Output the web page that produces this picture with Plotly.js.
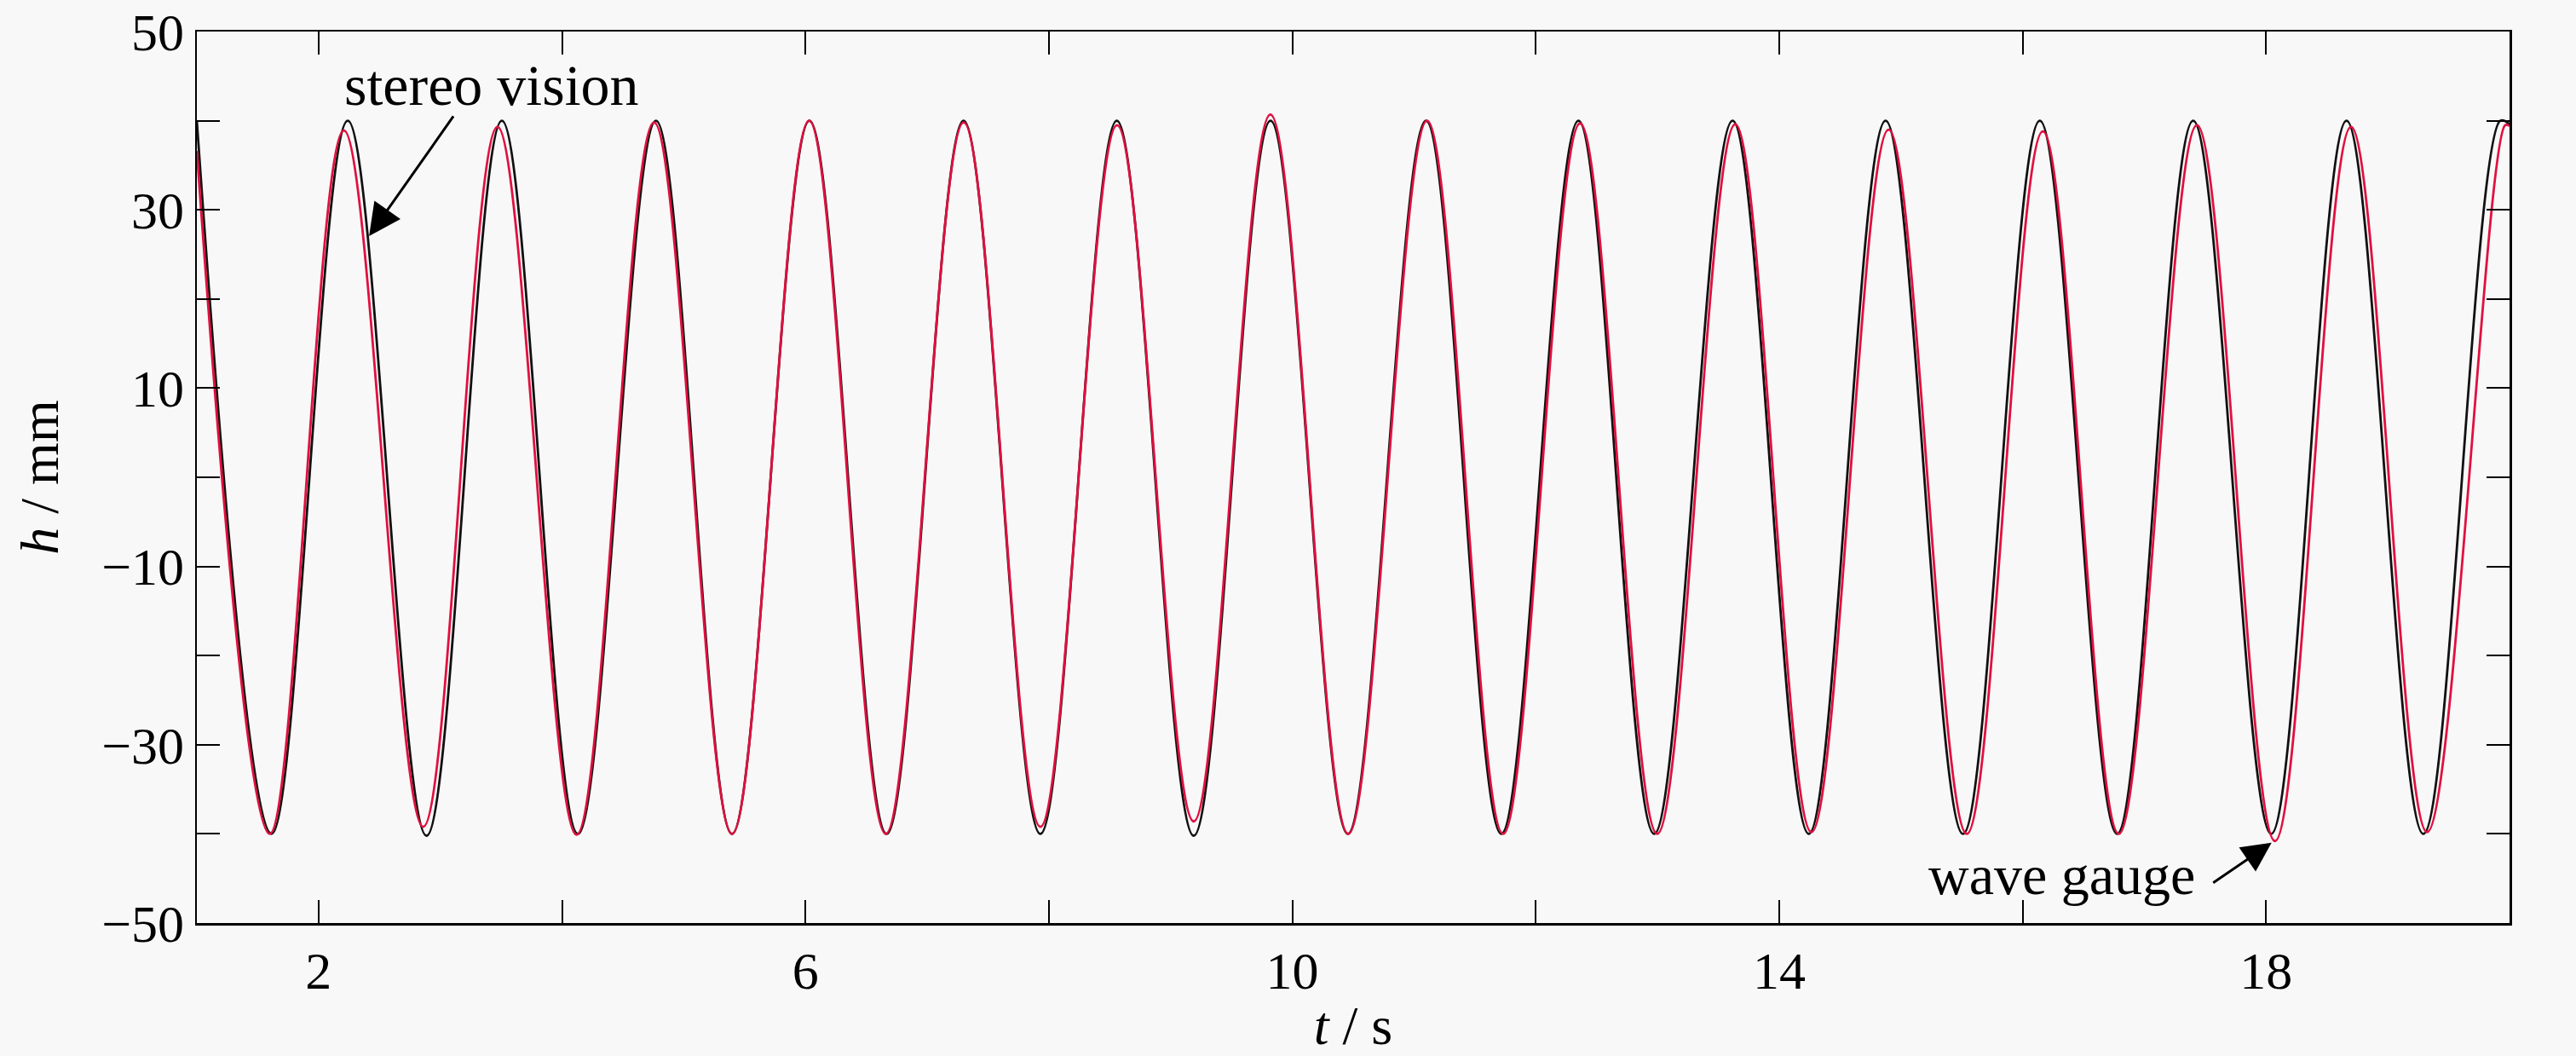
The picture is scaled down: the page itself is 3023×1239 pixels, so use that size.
<!DOCTYPE html>
<html>
<head>
<meta charset="utf-8">
<script src="https://cdn.plot.ly/plotly-3.0.1.min.js"></script>
<style>
  html, body { margin: 0; padding: 0; background: #f8f8f8; }
  #chart { width: 3023px; height: 1239px; }
</style>
</head>
<body>
<div id="chart"></div>
<script>
// Stereo vision (black) – successive crests and troughs
const stereoT = [1.0, 1.614, 2.24, 2.887, 3.506, 4.131, 4.772, 5.397, 6.033, 6.667, 7.299, 7.930, 8.558, 9.190, 9.821, 10.456, 11.098, 11.717, 12.351, 12.973, 13.617, 14.243, 14.874, 15.51, 16.141, 16.776, 17.401, 18.042, 18.661, 19.292, 19.924, 20.0];
const stereoH = [40, -40, 40, -40.2, 40, -40, 40, -40, 40, -40, 40, -40, 40, -40.2, 40, -40, 40, -40, 40, -40, 40, -40, 40, -40, 40, -40, 40, -40, 40, -40, 40, 39.6];

// Wave gauge (red) – successive crests and troughs
const gaugeT = [1.0, 1.599, 2.208, 2.86, 3.47, 4.12, 4.756, 5.397, 6.03, 6.66, 7.30, 7.93, 8.56, 9.19, 9.82, 10.46, 11.107, 11.732, 12.364, 12.998, 13.639, 14.265, 14.899, 15.541, 16.166, 16.79, 17.432, 18.073, 18.698, 19.323, 19.964, 20.0];
const gaugeH = [36.6, -40, 38.9, -39.2, 39.3, -40.1, 39.8, -40, 40, -40, 39.8, -39.2, 39.5, -38.6, 40.7, -40, 40, -40, 39.7, -40, 39.6, -39.8, 39, -40, 38.8, -40, 39.5, -40.8, 39.3, -39.8, 39.5, 39.4];

// Axis ticks
const xTickVals = [2, 4, 6, 8, 10, 12, 14, 16, 18];
const xTickText = ['2', '', '6', '', '10', '', '14', '', '18'];
const yTickVals = [-50, -40, -30, -20, -10, 0, 10, 20, 30, 40, 50];
const yTickText = ['\u221250', '', '\u221230', '', '\u221210', '', '10', '', '30', '', '50'];

const serif = 'Liberation Serif, Times New Roman, serif';

const traces = [
  { x: stereoT, y: stereoH, type: 'scatter', mode: 'lines', name: 'stereo vision',
    line: { color: '#111111', width: 2.8, shape: 'spline', smoothing: 1 } },
  { x: gaugeT, y: gaugeH, type: 'scatter', mode: 'lines', name: 'wave gauge',
    line: { color: '#e0103f', width: 2.8, shape: 'spline', smoothing: 1 } }
];

const axisCommon = {
  showgrid: false, zeroline: false, showline: true, linecolor: '#000', linewidth: 2.5,
  mirror: 'ticks', ticks: 'inside', ticklen: 27, tickwidth: 2, tickcolor: '#000',
  tickmode: 'array', tickfont: { family: serif, size: 62, color: '#000' }
};

const layout = {
  width: 3023, height: 1239,
  margin: { l: 231, r: 78, t: 37, b: 156 },
  paper_bgcolor: '#f8f8f8', plot_bgcolor: '#f8f8f8',
  showlegend: false,
  xaxis: Object.assign({}, axisCommon, {
    range: [1, 20], tickvals: xTickVals, ticktext: xTickText, automargin: true,
    title: { text: '<i>t</i> / s', font: { family: serif, size: 64, color: '#000' }, standoff: 2 }
  }),
  yaxis: Object.assign({}, axisCommon, {
    range: [-50, 50], tickvals: yTickVals, ticktext: yTickText,
    title: { text: '<i>h</i> / mm', font: { family: serif, size: 64, color: '#000' }, standoff: 30 }
  }),
  annotations: [
    { x: 3.42, y: 44.0, xref: 'x', yref: 'y', text: 'stereo vision', showarrow: false,
      font: { family: serif, size: 68, color: '#000' } },
    { x: 2.415, y: 27.06, xref: 'x', yref: 'y', text: '', showarrow: true,
      ax: 100, ay: -142, arrowhead: 2, arrowsize: 2.5, arrowwidth: 3, arrowcolor: '#000' },
    { x: 16.32, y: -44.6, xref: 'x', yref: 'y', text: 'wave gauge', showarrow: false,
      font: { family: serif, size: 66, color: '#000' } },
    { x: 18.045, y: -41.0, xref: 'x', yref: 'y', text: '', showarrow: true,
      ax: -70, ay: 48, arrowhead: 2, arrowsize: 2.3, arrowwidth: 3, arrowcolor: '#000' }
  ]
};

Plotly.newPlot('chart', traces, layout, { displayModeBar: false, staticPlot: true });
</script>
</body>
</html>
